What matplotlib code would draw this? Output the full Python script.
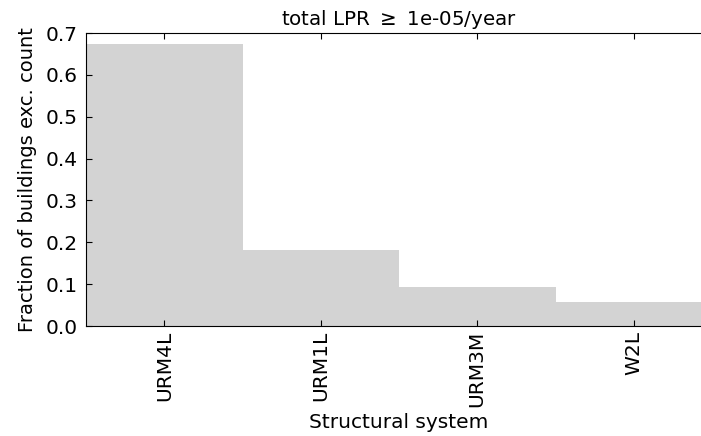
import numpy as np
import matplotlib.pyplot as plt

# Datos
systems = ["URM4L", "URM1L", "URM3M", "W2L"]
fraction = [0.674, 0.182, 0.092, 0.058]

fig = plt.figure(figsize=(7.01, 4.36), dpi=100)
ax = fig.add_axes([86/701, 1 - 326/436, (712 - 86)/701, (326 - 33)/436])

x = np.arange(len(systems))
ax.bar(x, fraction, width=1.0, color="lightgray", linewidth=0)

ax.set_xlim(-0.5, 3.5)
ax.set_ylim(0, 0.7)
ax.set_xticks(x)
ax.set_xticklabels(systems, rotation=90, fontsize=14.5)
ax.set_yticks(np.arange(0, 0.71, 0.1))
ax.tick_params(axis="y", labelsize=14.5, pad=6)
ax.tick_params(direction="in", top=True, right=True, length=4)
ax.set_xlabel("Structural system", fontsize=14.5, labelpad=4)
ax.set_ylabel("Fraction of buildings exc. count", fontsize=14, labelpad=6)
ax.set_title(r"total LPR $\geq$ 1e-05/year", fontsize=14.3)

fig.savefig("out.png", dpi=100)
